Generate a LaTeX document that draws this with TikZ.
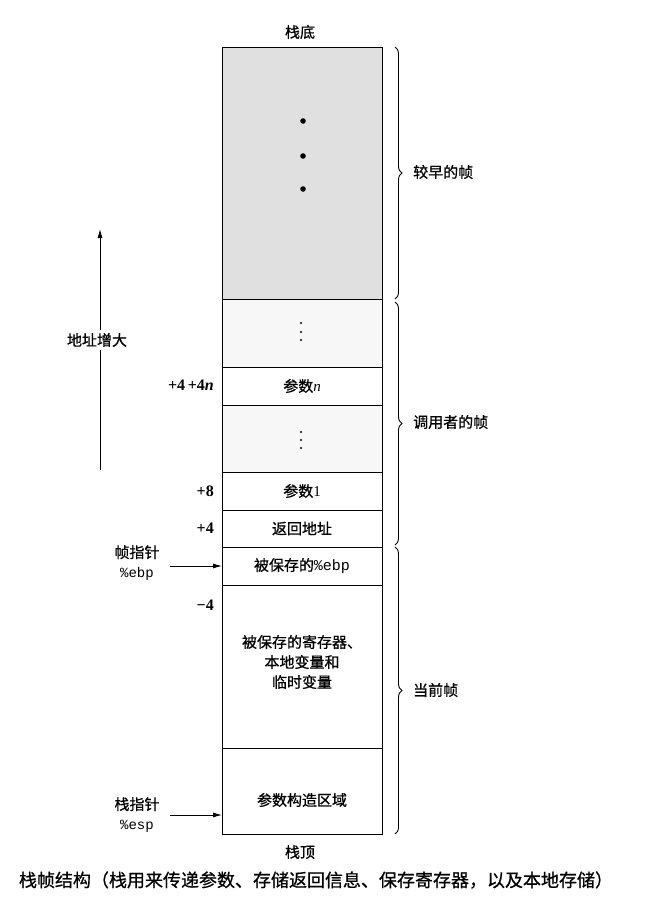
\documentclass[tikz,border=0pt]{standalone}
\usepackage{fontspec}
\setmainfont{Liberation Serif}
\newfontfamily\cjk[FakeBold=0.8]{Noto Sans CJK SC}
\newfontfamily\monof{Liberation Mono}
\usetikzlibrary{decorations.pathreplacing,arrows.meta}
\begin{document}
\begin{tikzpicture}[x=1pt,y=-1pt,
  cell/.style={draw, line width=0.9pt, minimum width=160pt, anchor=north west,
    inner sep=0pt, outer sep=0pt, font=\cjk\fontsize{15}{18}\selectfont},
  lbl/.style={font=\cjk\fontsize{15}{20}\selectfont, inner sep=1pt},
  off/.style={font=\bfseries\fontsize{16}{18}\selectfont, anchor=east, inner sep=0pt},
  bracestyle/.style={decorate, decoration={brace, amplitude=7pt}, line width=0.9pt},
  ptr/.style={-{Latex[length=9pt,width=5pt]}, line width=0.8pt},
  dotbig/.style={fill=black},
]
\useasboundingbox (0,0) rectangle (647,906);

% cells
\node[cell, fill=gray!24, minimum height=252pt] (old) at (222,47) {};
\node[cell, fill=gray!6, minimum height=68pt] (cd1) at (222,299) {};
\node[cell, minimum height=38pt] (argn) at (222,367) {参数{\rmfamily\itshape n}};
\node[cell, fill=gray!6, minimum height=67pt] (cd2) at (222,405) {};
\node[cell, minimum height=38pt] (arg1) at (222,472) {参数{\rmfamily 1}};
\node[cell, minimum height=37pt] (ret) at (222,510) {返回地址};
\node[cell, minimum height=38pt] (ebp) at (222,547) {被保存的{\monof\%ebp}};
\node[cell, minimum height=163pt] (regs) at (222,585) {};
\node[cell, minimum height=86pt] (argb) at (222,748) {};
\node[lbl, align=center] (regsl) at (302,662) {被保存的寄存器、\\本地变量和\\临时变量};
\node[lbl] (argbl) at (302,800) {参数构造区域};

% dots
\fill[dotbig] (303,121) circle (2.8pt);
\fill[dotbig] (303,156) circle (2.8pt);
\fill[dotbig] (303,189) circle (2.8pt);
\foreach \yy in {323,332,340,432,440,448} \fill (301,\yy) circle (1.2pt);

% top / bottom labels
\node[lbl] (bottom) at (300,32) {栈底};
\node[lbl] (top) at (300,852) {栈顶};

% braces
\coordinate (b1a) at (395,47);  \coordinate (b1b) at (395,299);
\coordinate (b2a) at (395,302); \coordinate (b2b) at (395,545);
\coordinate (b3a) at (395,547); \coordinate (b3b) at (395,834);
\draw[bracestyle] (b1a) -- (b1b);
\draw[bracestyle] (b2a) -- (b2b);
\draw[bracestyle] (b3a) -- (b3b);
\node[lbl, anchor=west] (f1) at (412,172) {较早的帧};
\node[lbl, anchor=west] (f2) at (412,422) {调用者的帧};
\node[lbl, anchor=west] (f3) at (412,690) {当前帧};

% address growth arrow
\coordinate (abot) at (100,470);
\coordinate (atop) at (100,229);
\draw[ptr] (abot) -- (atop);
\node[lbl, fill=white, inner sep=3pt] (addr) at (97,340) {地址增大};

% offsets
\node[off] (o1) at (214,385) {+4\,+4\textit{n}};
\node[off] (o2) at (214,491) {+8};
\node[off] (o3) at (214,528) {+4};
\node[off] (o4) at (214,605) {−4};

% pointers
\node[lbl, align=center] (fp) at (137,563) {帧指针\\{\monof\fontsize{14}{18}\selectfont\%ebp}};
\coordinate (fps) at (170,566);
\draw[ptr] (fps) -- (ebp.west);
\node[lbl, align=center] (sp) at (137,815) {栈指针\\{\monof\fontsize{14}{18}\selectfont\%esp}};
\coordinate (sps) at (170,815);
\coordinate (spe) at (222,815);
\draw[ptr] (sps) -- (spe);

% caption
\node[font=\cjk\fontsize{18}{20}\selectfont, inner sep=0pt] (cap) at (316,880) {栈帧结构（栈用来传递参数、存储返回信息、保存寄存器，以及本地存储）};
\end{tikzpicture}
\end{document}
